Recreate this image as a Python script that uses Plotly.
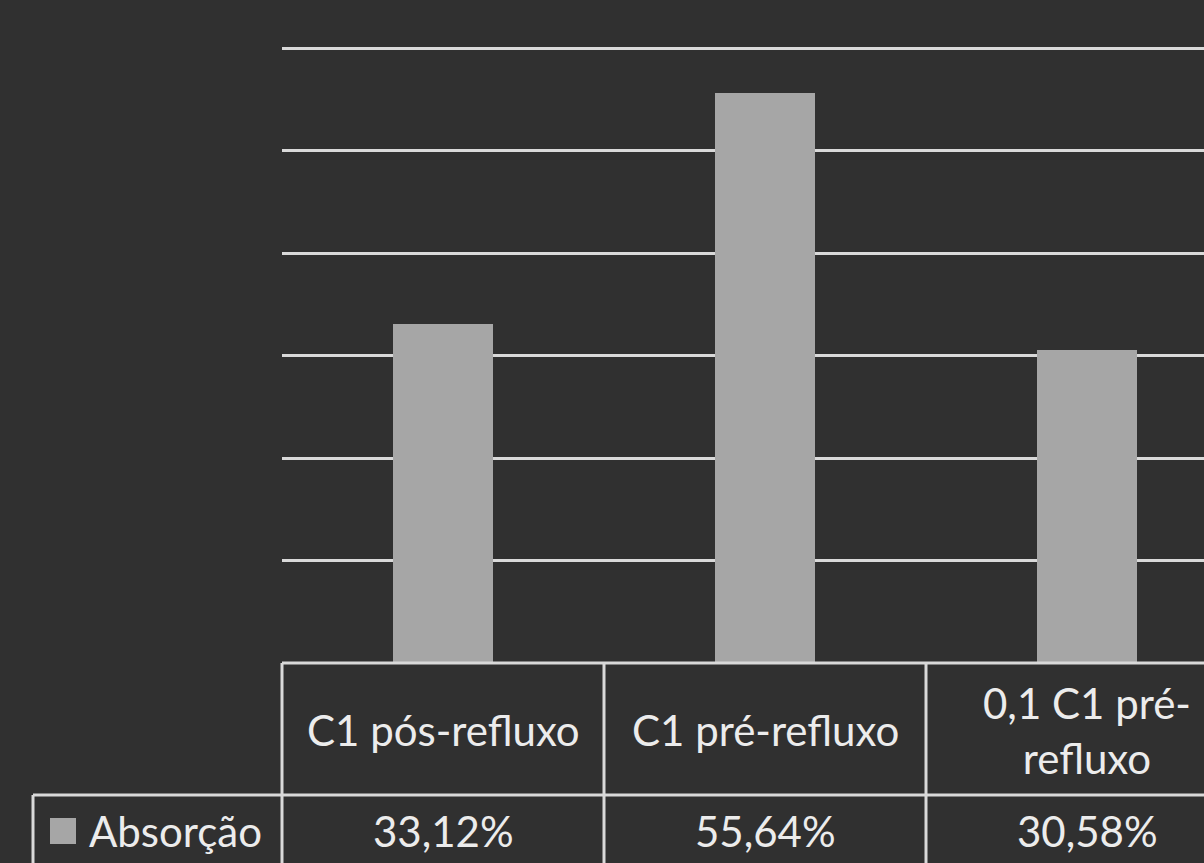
import plotly.graph_objects as go

categories = ["C1 pós-refluxo", "C1 pré-refluxo", "0,1 C1 pré-refluxo"]
category_labels = ["C1 pós-refluxo", "C1 pré-refluxo", "0,1 C1 pré-<br>refluxo"]
series_name = "Absorção"
values = [33.12, 55.64, 30.58]
value_labels = ["33,12%", "55,64%", "30,58%"]
y_ticks = [0, 10, 20, 30, 40, 50, 60]

BG = "#303030"
BAR = "#a6a6a6"
GRID = "#d9d9d9"
TXT = "#ececec"
FONT = "Lato"
FS = 42

W, H = 1204, 863
ML, MR, MT, MB = 282, 0, 40, 200
plot_w = W - ML - MR
plot_h = H - MT - MB
x_range = [-0.5, -0.5 + plot_w / 322.0]
y_range = [0, 60 + (48 - MT) / 10.25]


def px_x(px):
    return (px - ML) / plot_w


def px_y(py):
    return (H - MB - py) / plot_h


def data_x_to_paper(xv):
    return (xv - x_range[0]) / (x_range[1] - x_range[0])


fig = go.Figure()
fig.add_trace(go.Bar(x=list(range(len(categories))), y=values, marker=dict(color=BAR, line=dict(width=0)),
                     width=0.31, name=series_name, showlegend=False, hoverinfo="skip"))

line = dict(color=GRID, width=3)
shapes = []
y_bottom = px_y(H + 10)
y_mid = px_y(795)
# top border of the table (baseline)
shapes.append(dict(type="line", xref="paper", yref="paper", x0=0, x1=1.01, y0=0, y1=0, line=line))
# horizontal line between header row and values row
shapes.append(dict(type="line", xref="paper", yref="paper", x0=px_x(33), x1=1.01, y0=y_mid, y1=y_mid, line=line))
# vertical boundaries between categories
for i in range(len(categories)):
    xp = data_x_to_paper(i - 0.5)
    shapes.append(dict(type="line", xref="paper", yref="paper", x0=xp, x1=xp, y0=0, y1=y_bottom, line=line))
# left border of legend cell
shapes.append(dict(type="line", xref="paper", yref="paper", x0=px_x(33), x1=px_x(33), y0=y_mid, y1=y_bottom, line=line))
# legend key
shapes.append(dict(type="rect", xref="paper", yref="paper", x0=px_x(50), x1=px_x(76), y0=px_y(844), y1=px_y(818),
                   fillcolor=BAR, line=dict(width=0)))

annotations = []
for i, lab in enumerate(category_labels):
    annotations.append(dict(x=i, xref="x", y=px_y(730), yref="paper", text=lab, showarrow=False,
                            xanchor="center", yanchor="middle", font=dict(color=TXT, size=FS, family=FONT)))
for i, v in enumerate(value_labels):
    annotations.append(dict(x=i, xref="x", y=px_y(831), yref="paper", text=v, showarrow=False,
                            xanchor="center", yanchor="middle", font=dict(color=TXT, size=FS, family=FONT)))
annotations.append(dict(x=px_x(87), xref="paper", y=px_y(831), yref="paper", text=series_name, showarrow=False,
                        xanchor="left", yanchor="middle", font=dict(color=TXT, size=FS, family=FONT)))

fig.update_layout(
    width=W, height=H,
    margin=dict(l=ML, r=MR, t=MT, b=MB, pad=0),
    paper_bgcolor=BG, plot_bgcolor=BG,
    showlegend=False,
    shapes=shapes,
    annotations=annotations,
    xaxis=dict(range=x_range, showticklabels=False, showgrid=False, zeroline=False, showline=False, ticks=""),
    yaxis=dict(range=y_range, tickvals=y_ticks, showticklabels=False, showgrid=True, gridcolor=GRID, gridwidth=3,
               zeroline=False, showline=False, ticks=""),
    bargap=0,
)

fig.write_html("out.html")
